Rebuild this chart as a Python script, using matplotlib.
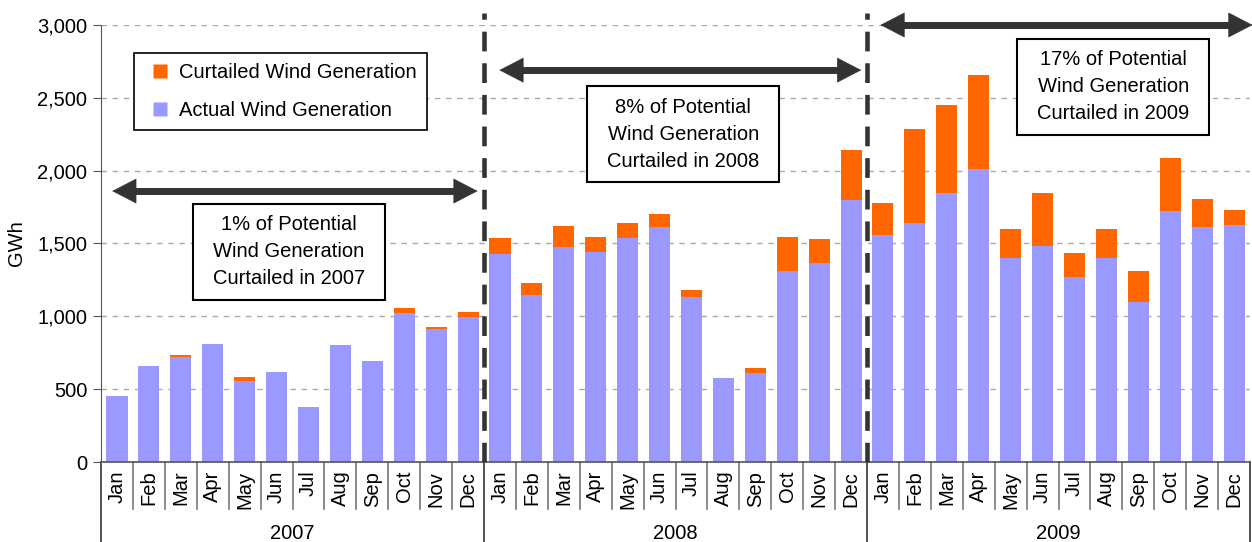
import matplotlib.pyplot as plt
import matplotlib.transforms as mtransforms
from matplotlib.lines import Line2D
from matplotlib.patches import Rectangle
import numpy as np

plt.rcParams['font.family'] = ['Liberation Sans', 'DejaVu Sans']

months = ['Jan', 'Feb', 'Mar', 'Apr', 'May', 'Jun',
          'Jul', 'Aug', 'Sep', 'Oct', 'Nov', 'Dec']
years = ['2007', '2008', '2009']

actual_2007 = [450, 660, 720, 810, 555, 615, 380, 800, 690, 1020, 910, 995]
curtail_2007 = [0, 0, 15, 0, 27, 0, 0, 0, 0, 38, 15, 33]
actual_2008 = [1425, 1145, 1475, 1440, 1535, 1610, 1130, 580, 608, 1310, 1365, 1800]
curtail_2008 = [110, 82, 145, 103, 105, 90, 50, 0, 35, 233, 165, 340]
actual_2009 = [1555, 1640, 1845, 2010, 1400, 1480, 1268, 1400, 1097, 1720, 1612, 1625]
curtail_2009 = [222, 645, 605, 645, 198, 365, 165, 198, 213, 365, 192, 104]

notes = ['1% of Potential\nWind Generation\nCurtailed in 2007',
         '8% of Potential\nWind Generation\nCurtailed in 2008',
         '17% of Potential\nWind Generation\nCurtailed in 2009']

actual = np.array(actual_2007 + actual_2008 + actual_2009)
curtail = np.array(curtail_2007 + curtail_2008 + curtail_2009)
x = np.arange(len(actual))

purple = '#9999FF'
orange = '#FF6600'
dark = '#333333'
fs = 14.5

fig = plt.figure(figsize=(12.52, 5.42), dpi=100)
ax = fig.add_axes([0.0807, 0.1476, 0.9177, 0.8063])

ax.bar(x, actual, width=0.66, color=purple, zorder=2)
ax.bar(x, curtail, width=0.66, bottom=actual, color=orange, zorder=2)

ax.set_xlim(-0.5, len(x) - 0.5)
ax.set_ylim(0, 3000)
ax.set_yticks(np.arange(0, 3001, 500))
ax.yaxis.set_major_formatter(plt.FuncFormatter(lambda v, p: f'{int(v):,}'))
ax.tick_params(axis='y', labelsize=fs, length=6, color='#555555', pad=4)
ax.grid(axis='y', color='#aaaaaa', linestyle=(0, (4, 4)), linewidth=1, zorder=0)
ax.set_ylabel('GWh', fontsize=fs, labelpad=8)

for s in ['top', 'right']:
    ax.spines[s].set_visible(False)
ax.spines['left'].set_color('#555555')
ax.spines['bottom'].set_color('#555555')
ax.spines['bottom'].set_linewidth(1.2)

# category axis: months, then years
ax.set_xticks([])
trans = mtransforms.blended_transform_factory(ax.transData, ax.transAxes)
for i in range(len(x)):
    ax.text(x[i], -0.02, months[i % 12], rotation=90, ha='center', va='top',
            fontsize=fs, transform=trans)
for k in range(1, len(x)):
    if k % 12:
        ax.plot([k - 0.5, k - 0.5], [0, -0.108], color='#777777', lw=1.2,
                transform=trans, clip_on=False)
for k in range(0, len(x) + 1, 12):
    ax.plot([k - 0.5, k - 0.5], [0, -0.19], color='#333333', lw=1.2,
            transform=trans, clip_on=False)
for j, yr in enumerate(years):
    ax.text(12 * j + 5.5, -0.163, yr, ha='center', va='center', fontsize=fs,
            transform=trans)

# year separators
for k in [12, 24]:
    ax.plot([k - 0.5, k - 0.5], [0, 3080], color=dark, lw=3.3,
            linestyle=(0, (4.3, 2.6)), clip_on=False, zorder=3)

# span arrows: thick shaft + filled heads
arrows = [(-0.15, 11.3, 1860), (11.98, 23.32, 2690), (23.92, 35.58, 3000)]
for x0, x1, yv in arrows:
    ax.plot([x0 + 0.5, x1 - 0.5], [yv, yv], color=dark, lw=5,
            solid_capstyle='butt', clip_on=False, zorder=4)
    ax.annotate('', xy=(x1, yv), xytext=(x0, yv),
                arrowprops=dict(arrowstyle='<|-|>,head_length=0.83,head_width=0.43',
                                color=dark, lw=0.5, mutation_scale=20,
                                shrinkA=0, shrinkB=0),
                annotation_clip=False, zorder=4)

# note boxes
note_pos = [(5.39, 1444), (17.74, 2250), (31.22, 2577)]
box_w = 6.02
box_h = 659
for (tx, ty), t in zip(note_pos, notes):
    ax.add_patch(Rectangle((tx - box_w / 2, ty - box_h / 2), box_w, box_h,
                           facecolor='white', edgecolor='black', lw=1.5,
                           zorder=5, clip_on=False))
    ax.text(tx, ty, t, ha='center', va='center', fontsize=fs, linespacing=1.52,
            zorder=6)

handles = [Line2D([], [], marker='s', ls='none', markersize=9.4,
                  markerfacecolor=orange, markeredgecolor='none'),
           Line2D([], [], marker='s', ls='none', markersize=9.4,
                  markerfacecolor=purple, markeredgecolor='none')]
leg = ax.legend(handles, ['Curtailed Wind Generation', 'Actual Wind Generation'],
                loc='upper left', bbox_to_anchor=(0.0287, 0.936), borderaxespad=0,
                fontsize=fs, frameon=True, fancybox=False, framealpha=1,
                edgecolor='black', handlelength=1.63, numpoints=1,
                handletextpad=0.1, labelspacing=0.95, borderpad=0.5)
leg.get_frame().set_linewidth(1.2)

fig.savefig('out.png', dpi=100)
